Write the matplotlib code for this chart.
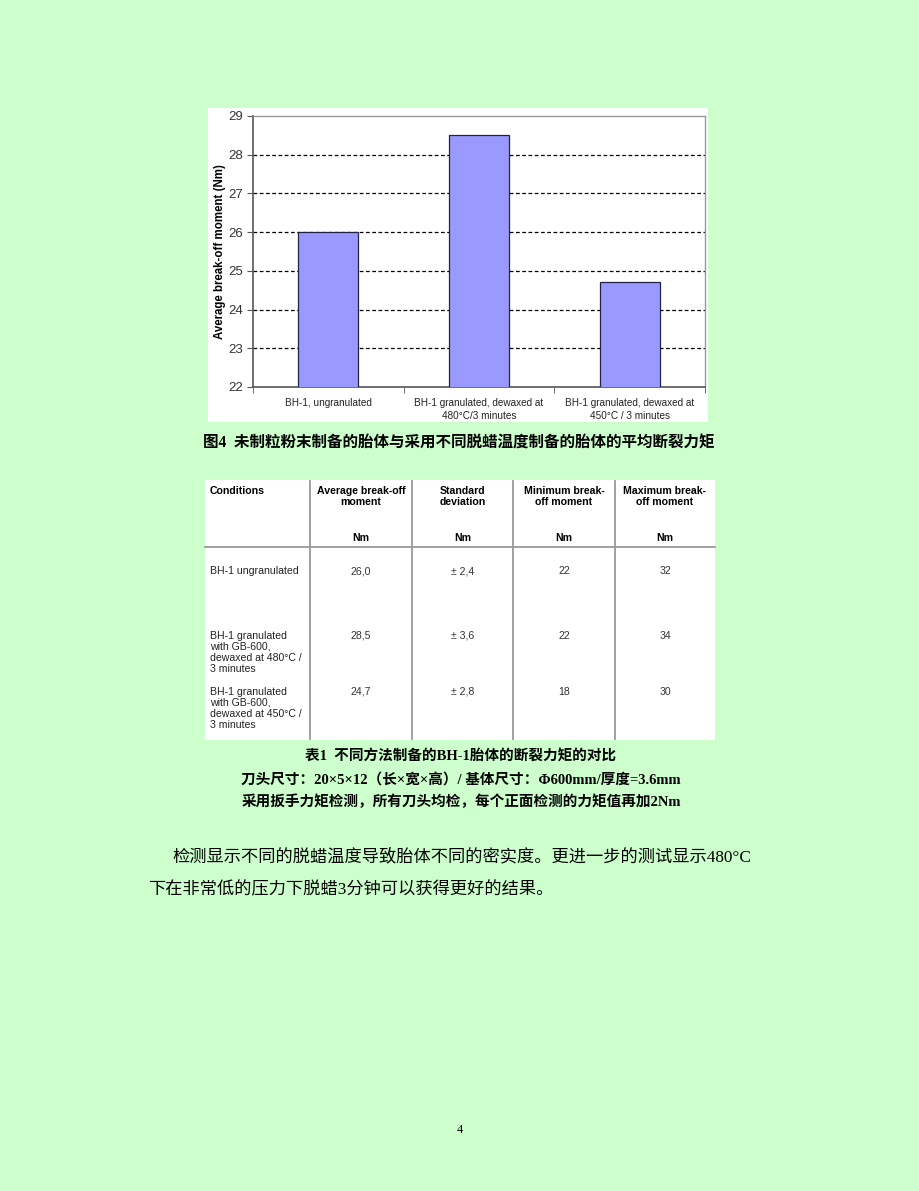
import matplotlib.pyplot as plt
from matplotlib.patches import Rectangle
from matplotlib.lines import Line2D

# chart / table data
categories = ["BH-1, ungranulated",
              "BH-1 granulated, dewaxed at\n480°C/3 minutes",
              "BH-1 granulated, dewaxed at\n450°C / 3 minutes"]
conditions = ["BH-1 ungranulated",
              "BH-1 granulated\nwith GB-600,\ndewaxed at 480°C /\n3 minutes",
              "BH-1 granulated\nwith GB-600,\ndewaxed at 450°C /\n3 minutes"]
avg_moment = [26.0, 28.5, 24.7]
std_dev = [2.4, 3.6, 2.8]
min_moment = [22, 22, 18]
max_moment = [32, 34, 30]
headers = ["Conditions", "Average break-off\nmoment", "Standard\ndeviation",
           "Minimum break-\noff moment", "Maximum break-\noff moment"]
y_ticks = [22, 23, 24, 25, 26, 27, 28, 29]

fig_caption = "图4  未制粒粉末制备的胎体与采用不同脱蜡温度制备的胎体的平均断裂力矩"
table_caption = ["表1  不同方法制备的BH-1胎体的断裂力矩的对比",
                 "刀头尺寸：20×5×12（长×宽×高）/ 基体尺寸：Φ600mm/厚度=3.6mm",
                 "采用扳手力矩检测，所有刀头均检，每个正面检测的力矩值再加2Nm"]
paragraph = ["检测显示不同的脱蜡温度导致胎体不同的密实度。更进一步的测试显示480°C",
             "下在非常低的压力下脱蜡3分钟可以获得更好的结果。"]

W, H = 920, 1191
BG = "#ccffcc"
CJK = ["Liberation Serif", "Noto Sans CJK SC"]
SANS = "Liberation Sans"


def fx(x):
    return x / W


def fy(y):
    return 1 - y / H


fig = plt.figure(figsize=(W / 100, H / 100), dpi=100, facecolor=BG)

# white panels behind chart and table
for x0, y0, x1, y1 in [(208, 108, 708, 422), (205, 480, 715, 740)]:
    fig.add_artist(Rectangle((fx(x0), fy(y1)), (x1 - x0) / W, (y1 - y0) / H,
                             transform=fig.transFigure, facecolor="white",
                             edgecolor="none", zorder=0))

# ---- bar chart ----
ax = fig.add_axes([fx(253), fy(387), (705 - 253) / W, (387 - 116) / H], zorder=1)
ax.set_facecolor("white")
xs = range(len(categories))
ax.bar(xs, avg_moment, width=0.4, bottom=0, color="#9999ff",
       edgecolor="#222244", linewidth=0.9, zorder=3)
ax.set_xlim(-0.5, 2.5)
ax.set_ylim(22, 29)
ax.set_yticks(y_ticks)
ax.set_yticklabels([str(t) for t in y_ticks], fontsize=9.5, family=SANS, color="#333333")
for t in y_ticks[1:-1]:
    ax.axhline(t, color="black", linestyle=(0, (3, 2)), linewidth=0.9, zorder=1)
ax.set_xticks(list(xs))
ax.set_xticklabels(categories, fontsize=7.2, family=SANS, color="#222222", linespacing=1.3)
ax.set_xticks([-0.5, 0.5, 1.5, 2.5], minor=True)
ax.tick_params(axis="x", which="major", length=0, pad=8)
ax.tick_params(axis="x", which="minor", length=4, color="#555555")
ax.tick_params(axis="y", length=4, color="#555555", pad=3)
ax.set_ylabel("Average break-off moment (Nm)", fontsize=8.3, fontweight="bold",
              family=SANS, labelpad=2)
for side in ["top", "right"]:
    ax.spines[side].set_color("#999999")
    ax.spines[side].set_linewidth(1.0)
for side in ["left", "bottom"]:
    ax.spines[side].set_color("#555555")
    ax.spines[side].set_linewidth(1.2)

fig.text(fx(459), fy(444), fig_caption, ha="center", va="center", fontsize=11.2,
         fontweight="bold", family=CJK)

# ---- table ----
col_edges = [205, 310, 412, 513, 615, 715]
col_centers = [(col_edges[i] + col_edges[i + 1]) / 2 for i in range(5)]
for x in col_edges[1:-1]:
    fig.add_artist(Line2D([fx(x), fx(x)], [fy(481), fy(739)], color="#9a9a9a",
                          linewidth=1.3, transform=fig.transFigure))
fig.add_artist(Line2D([fx(205), fx(715)], [fy(547), fy(547)], color="#9a9a9a",
                      linewidth=1.3, transform=fig.transFigure))

tkw = dict(fontsize=7.6, family=SANS, linespacing=1.12)
fig.text(fx(210), fy(486), headers[0], ha="left", va="top", fontweight="bold", **tkw)
for i in range(1, 5):
    fig.text(fx(col_centers[i]), fy(486), headers[i], ha="center", va="top",
             fontweight="bold", **tkw)
    fig.text(fx(col_centers[i]), fy(538), "Nm", ha="center", va="center",
             fontweight="bold", **tkw)

row_tops = [566, 631, 687]
for r in range(len(conditions)):
    top = fy(row_tops[r])
    fig.text(fx(210), top, conditions[r], ha="left", va="top", color="#222222", **tkw)
    vals = [f"{avg_moment[r]:.1f}".replace(".", ","),
            "± " + f"{std_dev[r]:.1f}".replace(".", ","),
            str(min_moment[r]), str(max_moment[r])]
    for i, v in enumerate(vals):
        fig.text(fx(col_centers[i + 1]), top, v, ha="center", va="top",
                 color="#333333", **tkw)

for y, line in zip([757, 780, 802], table_caption):
    fig.text(fx(461), fy(y), line, ha="center", va="center", fontsize=10.5,
             fontweight="bold", family=CJK)

fig.text(fx(172), fy(857), paragraph[0], ha="left", va="center", fontsize=12.4, family=CJK)
fig.text(fx(148), fy(890), paragraph[1], ha="left", va="center", fontsize=12.4, family=CJK)

fig.text(0.5, fy(1130), "4", ha="center", va="center", fontsize=9, family="Liberation Serif")

fig.savefig("out.png", dpi=100, facecolor=BG)
